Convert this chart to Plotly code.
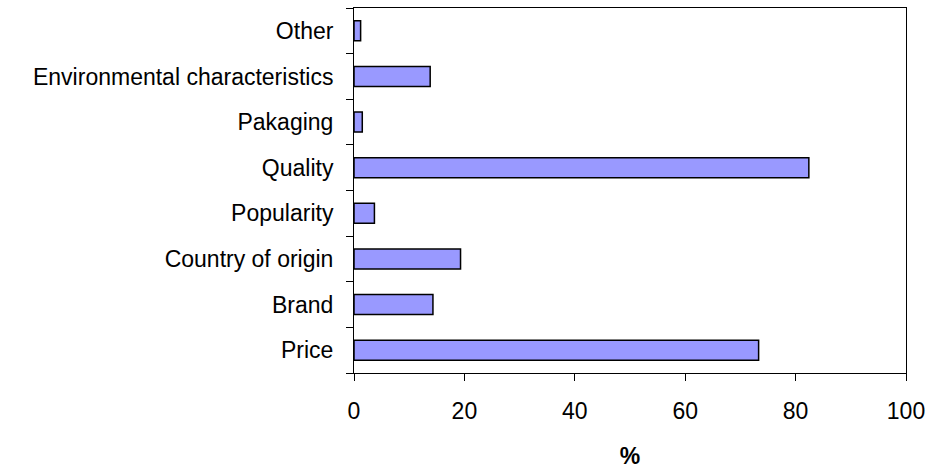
import plotly.graph_objects as go

# Purchase criteria, listed bottom to top
criteria = [
    "Price",
    "Brand",
    "Country of origin",
    "Popularity",
    "Quality",
    "Pakaging",
    "Environmental characteristics",
    "Other",
]
share_pct = [73.3, 14.3, 19.3, 3.7, 82.4, 1.5, 13.8, 1.2]
x_ticks = [0, 20, 40, 60, 80, 100]

FONT = "Liberation Sans, Arial, sans-serif"
TXT = 23

fig = go.Figure(
    go.Bar(
        x=share_pct,
        y=criteria,
        orientation="h",
        marker=dict(color="#9999FF", line=dict(color="#000000", width=1.5)),
        hoverinfo="x+y",
    )
)

fig.update_layout(
    width=931,
    height=469,
    margin=dict(l=354, r=25, t=8, b=96),
    paper_bgcolor="white",
    plot_bgcolor="white",
    bargap=0.56,
    showlegend=False,
    font=dict(family=FONT, size=TXT, color="#000000"),
)

fig.update_xaxes(
    range=[0, 100],
    tickmode="array",
    tickvals=x_ticks,
    ticktext=[str(v) for v in x_ticks],
    ticks="outside",
    ticklen=7,
    tickwidth=1,
    tickcolor="#000000",
    ticklabelstandoff=10,
    showgrid=False,
    zeroline=False,
    showline=True,
    linecolor="#000000",
    linewidth=1,
    mirror=True,
    automargin=False,
    title=dict(text="<b>%</b>", font=dict(family=FONT, size=TXT), standoff=33),
    tickfont=dict(family=FONT, size=TXT),
)

fig.update_yaxes(
    type="category",
    categoryorder="array",
    categoryarray=criteria,
    tickson="boundaries",
    ticks="outside",
    ticklen=7,
    tickwidth=1,
    tickcolor="#000000",
    ticklabelstandoff=15,
    showgrid=False,
    zeroline=False,
    showline=True,
    linecolor="#000000",
    linewidth=1,
    mirror=True,
    automargin=False,
    tickfont=dict(family=FONT, size=TXT),
)

fig.write_html("out.html")
